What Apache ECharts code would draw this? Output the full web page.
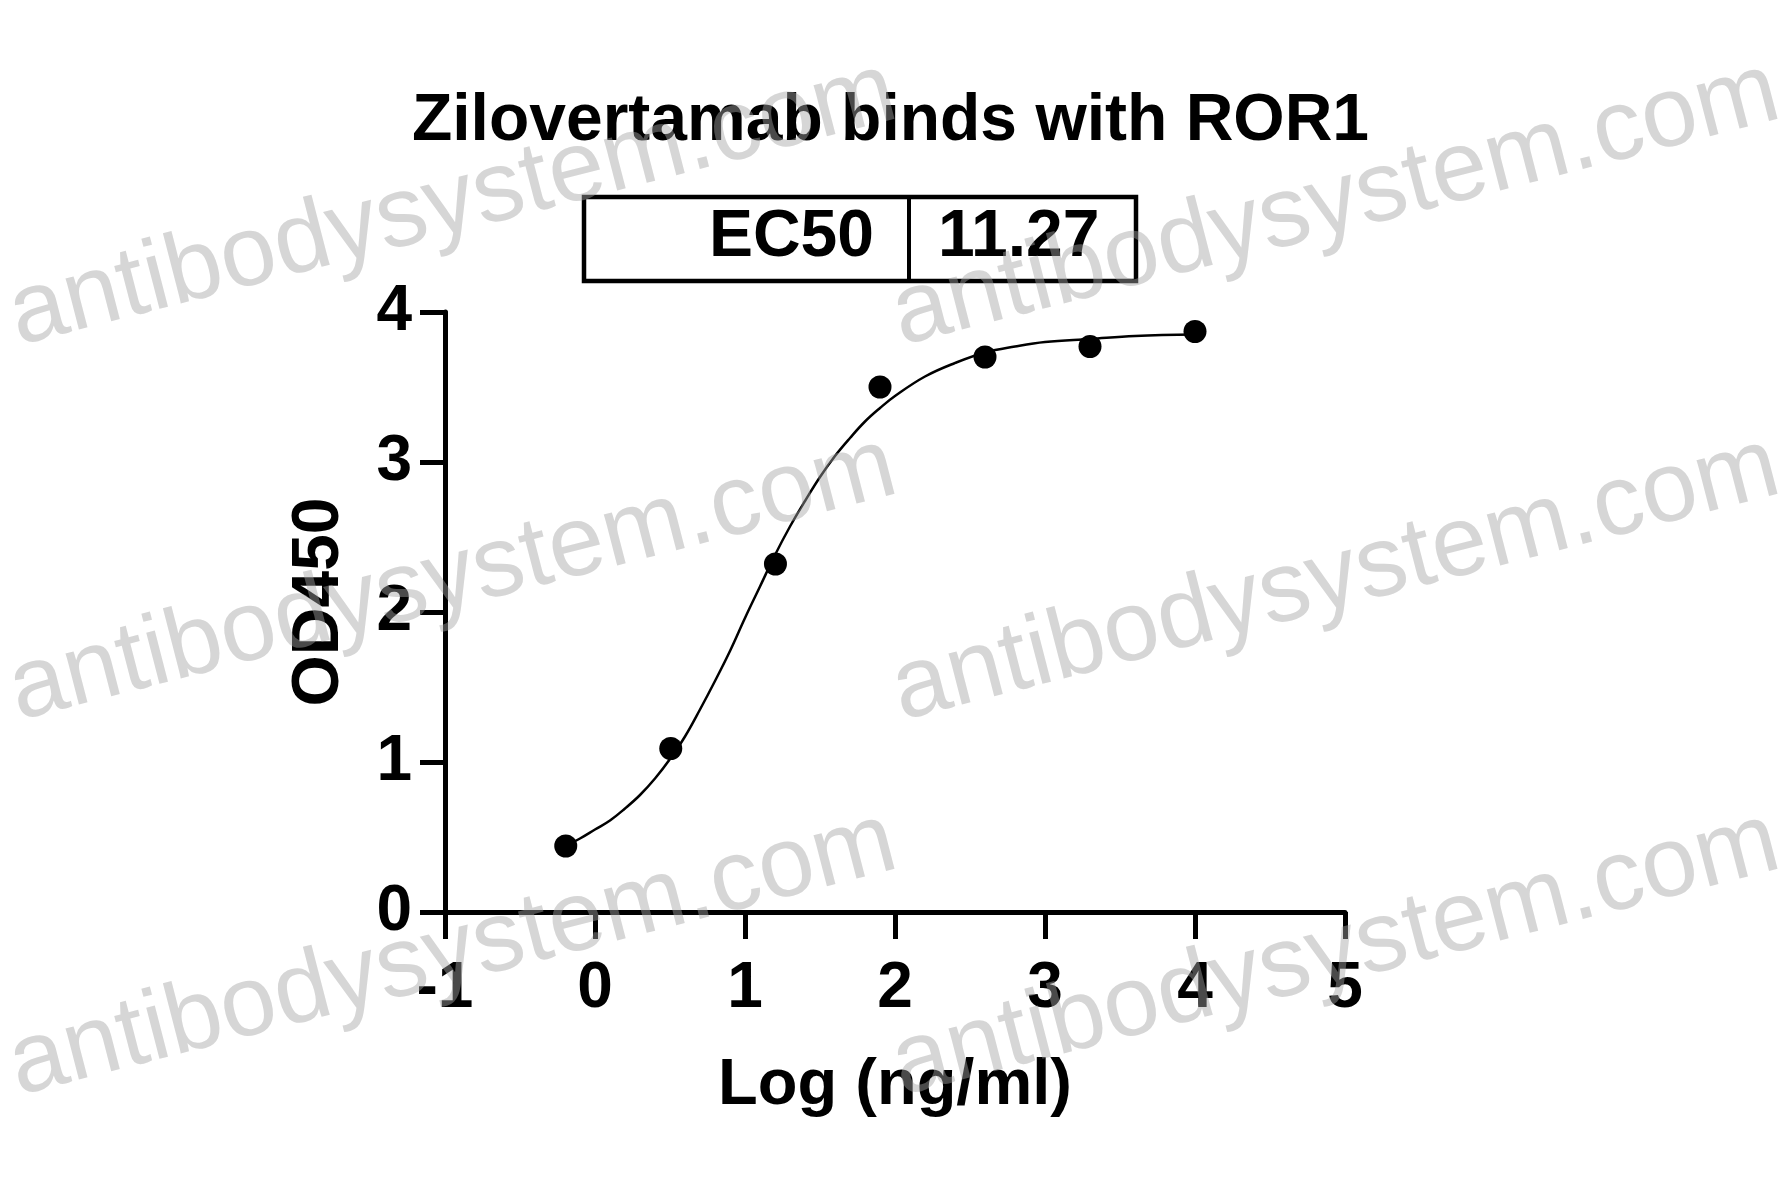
<!DOCTYPE html>
<html>
<head>
<meta charset="utf-8">
<script src="https://cdn.jsdelivr.net/npm/echarts@6/dist/echarts.min.js"></script>
<style>
html,body{margin:0;padding:0;background:#fff;}
#chart{width:1781px;height:1197px;}
</style>
</head>
<body>
<div id="chart"></div>
<script>
// Measured points: log concentration (ng/ml) vs OD450
const logConc = [-0.195, 0.505, 1.203, 1.900, 2.600, 3.300, 4.000];
const od450 = [0.44, 1.09, 2.32, 3.50, 3.70, 3.77, 3.87];
// Fitted curve
const curveX = [-0.195, -0.1, 0, 0.1, 0.2, 0.3, 0.4, 0.5, 0.6, 0.7, 0.8, 0.9, 1.0, 1.1, 1.2, 1.3, 1.4, 1.5, 1.6, 1.7, 1.8, 1.9, 2.0, 2.2, 2.4, 2.6, 2.8, 3.0, 3.3, 3.6, 4.0];
const curveY = [0.44, 0.49, 0.55, 0.61, 0.69, 0.78, 0.89, 1.02, 1.17, 1.35, 1.54, 1.74, 1.96, 2.17, 2.38, 2.57, 2.74, 2.90, 3.04, 3.16, 3.27, 3.36, 3.44, 3.57, 3.66, 3.73, 3.77, 3.80, 3.82, 3.84, 3.85];
const titleText = 'Zilovertamab binds with ROR1';
const tableLabel = 'EC50';
const tableValue = '11.27';
const xName = 'Log (ng/ml)';
const yName = 'OD450';
const watermark = 'antibodysystem.com';

const FONT = '"Liberation Sans", Arial, Helvetica, sans-serif';
const chart = echarts.init(document.getElementById('chart'), null, {renderer: 'canvas'});

const wmStarts = [[24, 367], [907, 367], [24, 742], [907, 742], [24, 1117], [907, 1117]];
const wmGraphics = wmStarts.map(p => ({
  type: 'text',
  x: p[0], y: p[1],
  rotation: 14.5 * Math.PI / 180,
  z: 100,
  silent: true,
  style: {
    text: watermark,
    font: 'normal 100px ' + FONT,
    fill: 'rgba(165,165,165,0.45)',
    align: 'left',
    verticalAlign: 'bottom'
  }
}));

const option = {
  backgroundColor: '#ffffff',
  animation: false,
  title: {
    text: titleText,
    left: 'center',
    top: 84,
    textStyle: {fontFamily: FONT, fontWeight: 'bold', fontSize: 66, color: '#000'}
  },
  grid: {left: 445, right: 436, top: 312, bottom: 285, containLabel: false},
  xAxis: {
    type: 'value', min: -1, max: 5, interval: 1,
    name: xName, nameLocation: 'middle', nameGap: 142,
    nameTextStyle: {fontFamily: FONT, fontWeight: 'bold', fontSize: 65, color: '#000'},
    axisLine: {show: true, onZero: false, lineStyle: {color: '#000', width: 5}},
    axisTick: {show: true, inside: false, length: 27, lineStyle: {color: '#000', width: 5}},
    axisLabel: {margin: 45, fontFamily: FONT, fontWeight: 'bold', fontSize: 64, color: '#000'},
    splitLine: {show: false}
  },
  yAxis: {
    type: 'value', min: 0, max: 4, interval: 1,
    name: yName, nameLocation: 'middle', nameGap: 92, nameRotate: 90,
    nameTextStyle: {fontFamily: FONT, fontWeight: 'bold', fontSize: 66, color: '#000', padding: [0, 0, 0, 20]},
    axisLine: {show: true, onZero: false, lineStyle: {color: '#000', width: 5}},
    axisTick: {show: true, inside: false, length: 25, lineStyle: {color: '#000', width: 5}},
    axisLabel: {margin: 33, fontFamily: FONT, fontWeight: 'bold', fontSize: 64, color: '#000'},
    splitLine: {show: false}
  },
  series: [
    {
      type: 'line',
      data: curveX.map((x, i) => [x, curveY[i]]),
      smooth: 0.4,
      showSymbol: false,
      lineStyle: {color: '#000', width: 2.5},
      z: 2
    },
    {
      type: 'scatter',
      data: logConc.map((x, i) => [x, od450[i]]),
      symbol: 'circle',
      symbolSize: 23,
      itemStyle: {color: '#000', opacity: 1},
      z: 3
    }
  ],
  graphic: [
    {
      type: 'rect',
      shape: {x: 584, y: 197, width: 552, height: 84},
      style: {fill: 'none', stroke: '#000', lineWidth: 4.5},
      z: 10
    },
    {
      type: 'line',
      shape: {x1: 909, y1: 197, x2: 909, y2: 281},
      style: {stroke: '#000', lineWidth: 4},
      z: 10
    },
    {
      type: 'text',
      x: 874, y: 238,
      style: {text: tableLabel, font: 'bold 66px ' + FONT, fill: '#000', align: 'right', verticalAlign: 'middle'},
      z: 10
    },
    {
      type: 'text',
      x: 938, y: 238,
      style: {text: tableValue, font: 'bold 66px ' + FONT, fill: '#000', align: 'left', verticalAlign: 'middle'},
      z: 10
    }
  ].concat(wmGraphics)
};
chart.setOption(option);
</script>
</body>
</html>
